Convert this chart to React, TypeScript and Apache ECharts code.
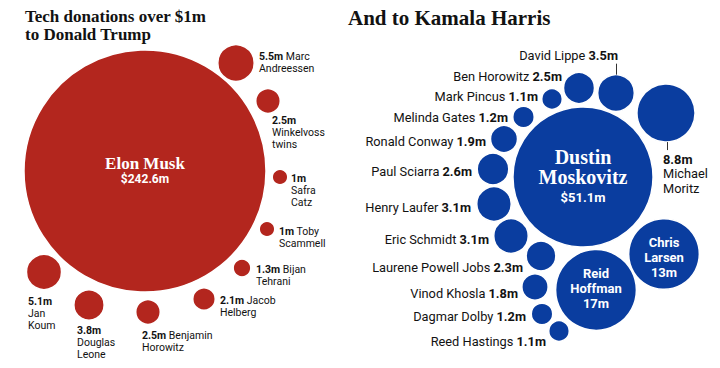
import React, { useEffect, useRef } from 'react';
import * as echarts from 'echarts';

// ---------- DATA ----------
const trumpDonors = ['Elon Musk', 'Marc Andreessen', 'Winkelvoss twins', 'Safra Catz', 'Toby Scammell', 'Bijan Tehrani', 'Jacob Helberg', 'Benjamin Horowitz', 'Douglas Leone', 'Jan Koum'];
const trumpValues = [242.6, 5.5, 2.5, 1, 1, 1.3, 2.1, 2.5, 3.8, 5.1];

const harrisDonors = ['Dustin Moskovitz', 'Reid Hoffman', 'Chris Larsen', 'Michael Moritz', 'David Lippe', 'Ben Horowitz', 'Mark Pincus', 'Melinda Gates', 'Ronald Conway', 'Paul Sciarra', 'Henry Laufer', 'Eric Schmidt', 'Laurene Powell Jobs', 'Vinod Khosla', 'Dagmar Dolby', 'Reed Hastings'];
const harrisValues = [51.1, 17, 13, 8.8, 3.5, 2.5, 1.1, 1.2, 1.9, 2.6, 3.1, 3.1, 2.3, 1.8, 1.2, 1.1];

const titleTrump = 'Tech donations over $1m\nto Donald Trump';
const titleHarris = 'And to Kamala Harris';

// ---------- LAYOUT (bubble pack positions, label placement) ----------
const trumpX = [145, 236, 268, 280, 267, 242, 204, 148, 89, 44];
const trumpY = [171, 63, 101, 177, 229, 268, 299, 312, 305, 272];
const trumpWrapped = ['Elon Musk', 'Marc\nAndreessen', '\nWinkelvoss\ntwins', '\nSafra\nCatz', 'Toby\nScammell', 'Bijan\nTehrani', 'Jacob\nHelberg', 'Benjamin\nHorowitz', '\nDouglas\nLeone', '\nJan\nKoum'];
const trumpLabelOffset = [[0, -1], [23, -13], [4, 13], [11, -5], [12, -4], [14, -5], [16, -5], [-6, 17], [-12, 19], [-16, 23]];

const harrisX = [583, 596, 664, 666, 616, 579, 552, 523.5, 504, 493, 494, 511, 541, 535, 542, 559];
const harrisY = [177, 290, 254, 113, 93, 88, 99, 117, 139, 169, 204, 236, 256, 287, 314, 331];
const harrisWrapped = ['Dustin\nMoskovitz', 'Reid\nHoffman', 'Chris\nLarsen', 'Michael\nMoritz'];
const harrisLabelOffset = [[0, 0], [0, -2], [0, 3.5], [-3, 39], [2, -38], [-17, -12], [-14, -3], [-15.5, 0], [-18, 2], [-21, 2], [-23, 3], [-22, 3], [-18, 11], [-17, 6], [-16, 2], [-13, 10]];

const TRUMP_K = 7.77; // px radius per sqrt($m)
const HARRIS_K = 9.8;

const SANS = 'Roboto, "Noto Sans", sans-serif';
const SERIF = '"Liberation Serif", "DejaVu Serif", serif';
const INK = '#121212';
const RED = '#b3261e';
const BLUE = '#0a3d9f';
const RED_FS = 10.5;
const BLUE_FS = 12.8;

function trumpItems() {
  return trumpDonors.map((name, i) => {
    const v = trumpValues[i];
    const [dx, dy] = trumpLabelOffset[i];
    if (i === 0) {
      return {
        name,
        value: [trumpX[i], trumpY[i], v],
        label: {
          show: true,
          position: 'inside',
          offset: [dx, dy],
          formatter: `{n|${trumpWrapped[i]}}\n{v|$${v}m}`,
          rich: {
            n: { fontFamily: SERIF, fontWeight: 'bold', fontSize: 17, lineHeight: 18, color: '#fff' },
            v: { fontFamily: SANS, fontWeight: 'bold', fontSize: 12, lineHeight: 13, color: '#fff' },
          },
        },
      };
    }
    const w = trumpWrapped[i];
    const text = w.startsWith('\n') ? `{b|${v}m}${w}` : `{b|${v}m} ${w}`;
    return {
      name,
      value: [trumpX[i], trumpY[i], v],
      label: {
        show: true,
        position: 'inside',
        align: 'left',
        verticalAlign: 'top',
        offset: [dx, dy],
        formatter: text,
        fontFamily: SANS,
        fontSize: RED_FS,
        lineHeight: 12,
        color: INK,
        rich: { b: { fontFamily: SANS, fontWeight: 'bold', fontSize: RED_FS, lineHeight: 12, color: INK } },
      },
    };
  });
}

function harrisItems() {
  return harrisDonors.map((name, i) => {
    const v = harrisValues[i];
    const [dx, dy] = harrisLabelOffset[i];
    const value = [harrisX[i], harrisY[i], v];
    if (i === 0) {
      const [a, b] = harrisWrapped[0].split('\n');
      return {
        name, value,
        label: {
          show: true, position: 'inside', offset: [dx, dy],
          formatter: `{n|${a}}\n{n|${b}}\n{v|$${v}m}`,
          rich: {
            n: { fontFamily: SERIF, fontWeight: 'bold', fontSize: 20, lineHeight: 20, color: '#fff' },
            v: { fontFamily: SANS, fontWeight: 'bold', fontSize: 13, lineHeight: 20, color: '#fff' },
          },
        },
      };
    }
    if (i === 1 || i === 2) {
      return {
        name, value,
        label: {
          show: true, position: 'inside', offset: [dx, dy],
          formatter: `${harrisWrapped[i]}\n${v}m`,
          fontFamily: SANS, fontWeight: 'bold', fontSize: 13, lineHeight: 15, color: '#fff',
        },
      };
    }
    if (i === 3) {
      return {
        name, value,
        label: {
          show: true, position: 'inside', align: 'left', verticalAlign: 'top', offset: [dx, dy],
          formatter: `{b|${v}m}\n${harrisWrapped[3]}`,
          fontFamily: SANS, fontSize: BLUE_FS, lineHeight: 14.5, color: INK,
          rich: { b: { fontFamily: SANS, fontWeight: 'bold', fontSize: BLUE_FS, lineHeight: 14.5, color: INK } },
        },
      };
    }
    return {
      name, value,
      label: {
        show: true, position: 'inside', align: 'right', verticalAlign: 'middle', offset: [dx, dy],
        formatter: `${name} {b|${v}m}`,
        fontFamily: SANS, fontSize: BLUE_FS, lineHeight: 15, color: INK,
        rich: { b: { fontFamily: SANS, fontWeight: 'bold', fontSize: BLUE_FS, lineHeight: 15, color: INK } },
      },
    };
  });
}

function leaderLines() {
  const lipIdx = harrisDonors.indexOf('David Lippe');
  const morIdx = harrisDonors.indexOf('Michael Moritz');
  const rL = HARRIS_K * Math.sqrt(harrisValues[lipIdx]);
  const rM = HARRIS_K * Math.sqrt(harrisValues[morIdx]);
  return [
    [{ coord: [harrisX[lipIdx], harrisY[lipIdx] - rL] }, { coord: [harrisX[lipIdx], harrisY[lipIdx] - rL - 11] }],
    [{ coord: [harrisX[morIdx] + 1, harrisY[morIdx] + rM] }, { coord: [harrisX[morIdx] + 1, harrisY[morIdx] + rM + 8] }],
  ];
}

export default function App() {
  const ref = useRef<HTMLDivElement>(null);
  useEffect(() => {
    if (!ref.current) return;
    const chart = echarts.init(ref.current, undefined, { renderer: 'svg' });
    chart.setOption({
      animation: false,
      backgroundColor: '#fff',
      title: [
        {
          text: titleTrump, left: 25, top: 7, padding: 0,
          textStyle: { fontFamily: SERIF, fontWeight: 'bold', fontSize: 17, lineHeight: 18, color: INK },
        },
        {
          text: titleHarris, left: 348, top: 7, padding: 0,
          textStyle: { fontFamily: SERIF, fontWeight: 'bold', fontSize: 21, lineHeight: 22, color: INK },
        },
      ],
      grid: { left: 0, right: 0, top: 0, bottom: 0 },
      xAxis: { type: 'value', min: 0, max: 720, show: false },
      yAxis: { type: 'value', min: 0, max: 368, inverse: true, show: false },
      series: [
        {
          type: 'scatter',
          clip: false,
          symbol: 'circle',
          symbolSize: (val: number[]) => 2 * TRUMP_K * Math.sqrt(val[2]),
          itemStyle: { color: RED, borderColor: '#fff', borderWidth: 1.5, opacity: 1 },
          emphasis: { disabled: true },
          data: trumpItems(),
        },
        {
          type: 'scatter',
          clip: false,
          symbol: 'circle',
          symbolSize: (val: number[]) => 2 * HARRIS_K * Math.sqrt(val[2]),
          itemStyle: { color: BLUE, borderColor: '#fff', borderWidth: 1.5, opacity: 1 },
          emphasis: { disabled: true },
          data: harrisItems(),
          markLine: {
            silent: true,
            symbol: ['none', 'none'],
            label: { show: false },
            lineStyle: { color: '#333', width: 1, type: 'solid' },
            data: leaderLines(),
          },
        },
      ],
    });
    return () => chart.dispose();
  }, []);
  return <div ref={ref} style={{ position: 'absolute', left: 0, top: 0, width: 720, height: 368 }} />;
}
